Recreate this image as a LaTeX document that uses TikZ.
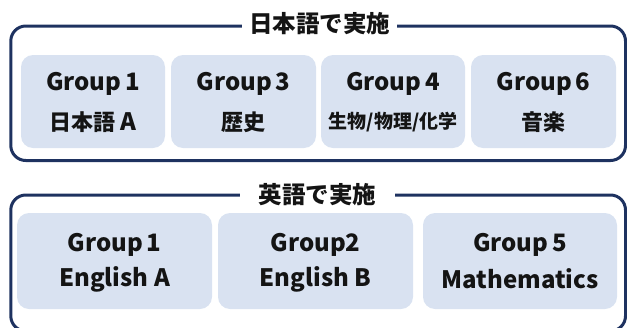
\documentclass[tikz,border=0pt]{standalone}
\usepackage{fontspec}
\setmainfont{Noto Sans CJK JP}
\definecolor{navy}{HTML}{1E3260}
\definecolor{boxfill}{HTML}{D9E2F1}
\definecolor{ink}{HTML}{141414}
\tikzset{
  frame/.style={draw=navy, line width=3pt, rounded corners=15pt},
  grp/.style={fill=boxfill, draw=none, rounded corners=12pt},
  lbl/.style={text=ink, font=\bfseries\fontsize{24}{28}\selectfont, inner sep=0pt},
  jlbl/.style={text=ink, font=\bfseries\fontsize{22}{26}\selectfont, inner sep=0pt},
  sml/.style={text=ink, font=\bfseries\fontsize{19}{22}\selectfont, inner sep=0pt},
  ttl/.style={text=ink, font=\bfseries\fontsize{23.5}{26}\selectfont, fill=white, inner sep=0pt, minimum height=24pt}
}
\begin{document}
\begin{tikzpicture}[x=1pt,y=-1pt]
\useasboundingbox (0,0) rectangle (627,327);
% frames
\draw[frame] (10.8,26) rectangle (625.5,160.5);
\draw[frame] (10.8,195) rectangle (625.5,331);
\node[ttl, minimum width=155pt] (t1) at (319.5,23.5) {日本語で実施};
\node[ttl, minimum width=155pt] (t2) at (317.5,195) {英語で実施};
% top boxes
\path[grp] (21,55) rectangle (165,148);
\path[grp] (171,55) rectangle (316,148);
\path[grp] (321,55) rectangle (465,148);
\path[grp] (471,55) rectangle (616,148);
\node[lbl] (a1) at (93,84) {Group\,1};
\node[jlbl] (a2) at (93,122) {日本語 {\fontsize{24}{28}\selectfont A}};
\node[lbl] (b1) at (243.5,84) {Group\,3};
\node[jlbl] (b2) at (243.5,122) {歴史};
\node[lbl] (c1) at (393,84) {Group\,4};
\node[sml] (c2) at (393,122) {生物/物理/化学};
\node[lbl] (d1) at (543.5,84) {Group\,6};
\node[jlbl] (d2) at (543.5,122) {音楽};
% bottom boxes
\path[grp] (17,213) rectangle (212,309);
\path[grp] (218,213) rectangle (413,309);
\path[grp] (423,213) rectangle (617,309);
\node[lbl] (e1) at (114.5,245) {Group\,1};
\node[lbl] (e2) at (114.5,279) {English A};
\node[lbl] (f1) at (315.5,245) {Group2};
\node[lbl] (f2) at (315.5,279) {English B};
\node[lbl] (g1) at (520,245) {Group\,5};
\node[lbl] (g2) at (520,279) {Mathematics};
\end{tikzpicture}
\end{document}
